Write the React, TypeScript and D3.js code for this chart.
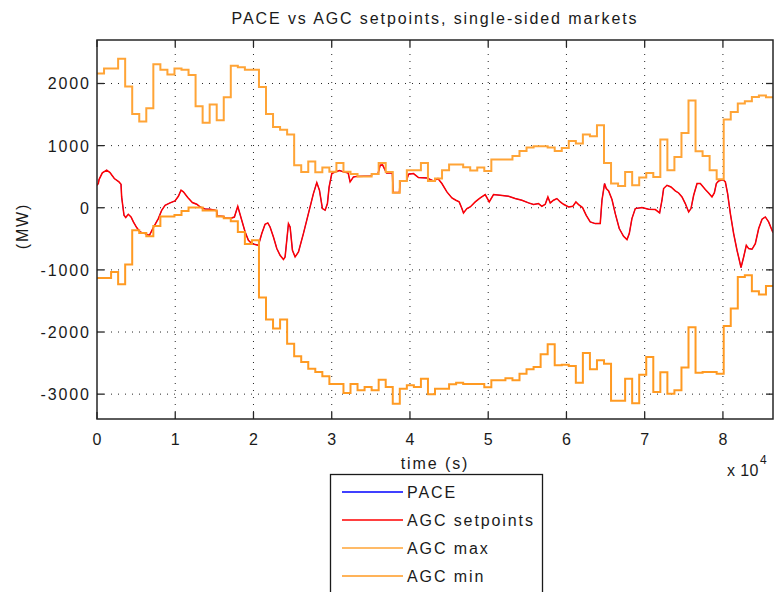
import { line, curveStepAfter, scaleLinear } from 'd3';

// 15-minute AGC limits (96 intervals over one day), MW
const agcMax = [
  2160, 2240, 2240, 2400, 1950, 1510, 1390, 1600, 2310, 2220, 2145, 2240,
  2220, 2135, 1635, 1370, 1660, 1410, 1780, 2285, 2260, 2220, 2220, 1945,
  1510, 1300, 1255, 1180, 685, 577, 745, 570, 647, 580, 722, 580,
  542, 505, 505, 542, 720, 577, 240, 432, 604, 604, 720, 432,
  470, 604, 698, 698, 650, 598, 647, 593, 776, 776, 776, 834,
  915, 969, 990, 990, 969, 915, 963, 1075, 1034, 1179, 1151, 1329,
  722, 389, 352, 577, 362, 486, 561, 496, 1098, 604, 818, 1205,
  1726, 910, 834, 604, 459, 1420, 1543, 1678, 1715, 1784, 1807, 1779,
];

const agcMin = [
  -1130, -1130, -1034, -1232, -915, -362, -405, -457, -295, -140, -140, -115,
  -53, 3, 3, -45, -45, -140, -170, -217, -390, -582, -523, -1446,
  -1800, -1945, -1800, -2187, -2391, -2483, -2590, -2644, -2713, -2837, -2837, -2982,
  -2837, -2939, -2885, -2939, -2767, -2885, -3153, -2912, -2858, -2885, -2751, -3003,
  -2912, -2912, -2842, -2815, -2837, -2837, -2837, -2890, -2778, -2778, -2746, -2778,
  -2670, -2601, -2564, -2359, -2198, -2536, -2526, -2547, -2815, -2338, -2601, -2456,
  -2509, -3105, -3105, -2751, -3148, -2686, -2402, -2966, -2649, -2992, -2939, -2573,
  -1924, -2654, -2644, -2644, -2670, -1903, -1623, -1114, -1087, -1345, -1398, -1259,
];

// AGC setpoint / PACE trace, (s, MW)
const setTimes = [
  0, 170, 260, 680, 1240, 1660, 2210, 2810, 3070, 3150, 3450, 3670,
  4000, 4350, 4650, 5070, 5500, 6140, 6700, 7200, 7840, 8270, 8700, 9340,
  9970, 10400, 10740, 11040, 11600, 12190, 12750, 13170, 13810, 14450, 15090, 15300,
  15350, 16200, 16250, 17100, 17560, 17990, 18500, 18930, 19350, 19780, 20630, 21060,
  21480, 21830, 22120, 22550, 22980, 23400, 23830, 24040, 24470, 24680, 24980, 25320,
  25750, 26380, 27020, 27660, 28090, 28430, 28810, 29160, 29450, 29670, 30010, 30400,
  31000, 31500, 32100, 32350, 32780, 33200, 35000, 35200, 35900, 36190, 36500, 37000,
  37750, 37850, 38650, 38750, 39550, 39810, 40450, 41090, 42160, 43010, 43570, 44080,
  44720, 45360, 45870, 46290, 46640, 46840, 47280, 47700, 48340, 48980, 49620, 50130,
  50680, 51530, 52600, 53450, 54310, 55160, 55800, 56430, 56860, 57290, 57630, 57930,
  58350, 58780, 59210, 59630, 60270, 60830, 61210, 61550, 62060, 62530, 63040, 63680,
  64320, 64540, 64870, 65090, 65390, 65820, 66240, 66750, 67300, 67740, 68030, 68370,
  68800, 69650, 70500, 71360, 71910, 72210, 72420, 72850, 73360, 73910, 74340, 74770,
  75190, 75620, 75920, 76260, 76690, 77110, 77750, 78170, 78600, 78900, 79160, 79450,
  80010, 80310, 80600, 80950, 81370, 81800, 82100, 82310, 82650, 82990, 83290, 83720,
  84140, 84570, 85000, 85420, 85840, 86400,
];

const setValues = [
  360, 390, 454, 561, 604, 567, 470, 416, 378, 174, -121, -158,
  -105, -148, -228, -319, -389, -416, -445, -319, -174, -40, 40, 78,
  110, 185, 282, 255, 164, 84, 56, 13, -19, -24, -40, -48,
  -132, -140, -164, -170, -150, 24, -201, -389, -523, -577, -604, -416,
  -266, -244, -309, -470, -657, -765, -834, -792, -255, -309, -684, -792,
  -711, -416, -94, 228, 405, 282, -13, -40, 67, 335, 550, 575,
  600, 578, 560, 416, 496, 505, 510, 540, 540, 684, 690, 560,
  560, 245, 245, 432, 432, 540, 550, 486, 480, 432, 470, 390,
  255, 158, 121, 94, -13, -83, -13, 13, 94, 158, 212, 94,
  212, 201, 185, 148, 121, 78, 51, 67, 24, 56, 174, 78,
  121, 148, 94, 56, 13, 24, 94, 51, 3, -121, -228, -255,
  -255, 121, 390, 309, 271, 132, -94, -335, -459, -513, -416, -174,
  -13, 3, -24, -29, -83, 121, 309, 362, 335, 271, 238, 174,
  67, -67, -13, 201, 390, 390, 293, 238, 174, 238, 390, 432,
  454, 416, 228, -94, -416, -684, -845, -963, -792, -604, -657, -668,
  -577, -335, -185, -148, -228, -400,
];

const paceValues = setValues;

const xTicks = [0, 10000, 20000, 30000, 40000, 50000, 60000, 70000, 80000];
const xTickLabels = ['0', '1', '2', '3', '4', '5', '6', '7', '8'];
const yTicks = [-3000, -2000, -1000, 0, 1000, 2000];

const legendItems = [
  { label: 'PACE', color: '#0000ff' },
  { label: 'AGC setpoints', color: '#ff0000' },
  { label: 'AGC max', color: '#ffa436' },
  { label: 'AGC min', color: '#ff9a22' },
];

export default function App() {
  const width = 775;
  const height = 592;
  const plot = { left: 97, right: 773, top: 40, bottom: 419 };
  const font = '"Liberation Sans", Arial, Helvetica, sans-serif';
  const ls = 1.9;

  const x = scaleLinear().domain([0, 86400]).range([plot.left, plot.right]);
  const y = scaleLinear().domain([-3400, 2700]).range([plot.bottom, plot.top]);

  const stepPoints = (vals: number[]) => {
    const pts = vals.map((v, k) => [k * 900, v] as [number, number]);
    pts.push([86400, vals[vals.length - 1]]);
    return pts;
  };

  const stepLine = line<[number, number]>()
    .x((d) => x(d[0]))
    .y((d) => y(d[1]))
    .curve(curveStepAfter);

  const traceLine = line<number>()
    .x((_, i) => x(setTimes[i]))
    .y((d) => y(d));

  const tickLen = 7;

  return (
    <svg
      width={width}
      height={height}
      style={{ position: 'absolute', left: 0, top: 0, background: '#fff' }}
      fontFamily={font}
    >
      <rect x={0} y={0} width={width} height={height} fill="#fff" />

      {/* grid */}
      <g stroke="#262626" strokeWidth={1} strokeDasharray="1,6">
        {xTicks.slice(1).map((t) => (
          <line key={`gx${t}`} x1={x(t)} x2={x(t)} y1={plot.top} y2={plot.bottom} />
        ))}
        {yTicks.map((t) => (
          <line key={`gy${t}`} x1={plot.left} x2={plot.right} y1={y(t)} y2={y(t)} />
        ))}
      </g>

      <defs>
        <clipPath id="plotClip">
          <rect
            x={plot.left}
            y={plot.top}
            width={plot.right - plot.left}
            height={plot.bottom - plot.top}
          />
        </clipPath>
      </defs>

      <g clipPath="url(#plotClip)" fill="none">
        <path d={traceLine(paceValues) || ''} stroke="#0000ff" strokeWidth={0.8} />
        <path d={traceLine(setValues) || ''} stroke="#ff0000" strokeWidth={1.5} />
        <path d={stepLine(stepPoints(agcMax)) || ''} stroke="#ffa436" strokeWidth={2} />
        <path d={stepLine(stepPoints(agcMin)) || ''} stroke="#ff9a22" strokeWidth={2} />
      </g>

      {/* ticks */}
      <g stroke="#262626" strokeWidth={1.3}>
        {xTicks.map((t) => (
          <g key={`tx${t}`}>
            <line x1={x(t)} x2={x(t)} y1={plot.bottom} y2={plot.bottom - tickLen} />
            <line x1={x(t)} x2={x(t)} y1={plot.top} y2={plot.top + tickLen} />
          </g>
        ))}
        {yTicks.map((t) => (
          <g key={`ty${t}`}>
            <line x1={plot.left} x2={plot.left + tickLen} y1={y(t)} y2={y(t)} />
            <line x1={plot.right} x2={plot.right - tickLen} y1={y(t)} y2={y(t)} />
          </g>
        ))}
      </g>

      <rect
        x={plot.left}
        y={plot.top}
        width={plot.right - plot.left}
        height={plot.bottom - plot.top}
        fill="none"
        stroke="#262626"
        strokeWidth={1.5}
      />

      {/* tick labels */}
      <g fontSize={16} fill="#1a1a1a" letterSpacing={ls}>
        {xTicks.map((t, i) => (
          <text key={`lx${t}`} x={x(t) + ls / 2} y={445} textAnchor="middle">
            {xTickLabels[i]}
          </text>
        ))}
        {yTicks.map((t) => (
          <text key={`ly${t}`} x={89 + ls} y={y(t) + 6} textAnchor="end">
            {t}
          </text>
        ))}
      </g>

      <text
        x={(plot.left + plot.right) / 2}
        y={24}
        textAnchor="middle"
        fontSize={16}
        letterSpacing={ls}
        fill="#1a1a1a"
      >
        PACE vs AGC setpoints, single-sided markets
      </text>

      <text
        x={(plot.left + plot.right) / 2}
        y={469}
        textAnchor="middle"
        fontSize={16}
        letterSpacing={ls}
        fill="#1a1a1a"
      >
        time (s)
      </text>

      <text
        transform="translate(28, 226) rotate(-90)"
        textAnchor="middle"
        fontSize={16}
        letterSpacing={ls}
        fill="#1a1a1a"
      >
        (MW)
      </text>

      <text x={727} y={476} fontSize={16} letterSpacing={0.4} fill="#1a1a1a">
        x 10
      </text>
      <text x={760} y={464} fontSize={12} fill="#1a1a1a">
        4
      </text>

      {/* legend */}
      <g>
        <rect x={330.5} y={474.5} width={212} height={140} fill="#fff" stroke="#1a1a1a" strokeWidth={1.3} />
        {legendItems.map((item, i) => {
          const cy = 492 + i * 28;
          return (
            <g key={item.label}>
              <line x1={342} x2={403} y1={cy} y2={cy} stroke={item.color} strokeWidth={1.5} />
              <text x={407} y={cy + 6} fontSize={16} letterSpacing={ls} fill="#1a1a1a">
                {item.label}
              </text>
            </g>
          );
        })}
      </g>
    </svg>
  );
}
